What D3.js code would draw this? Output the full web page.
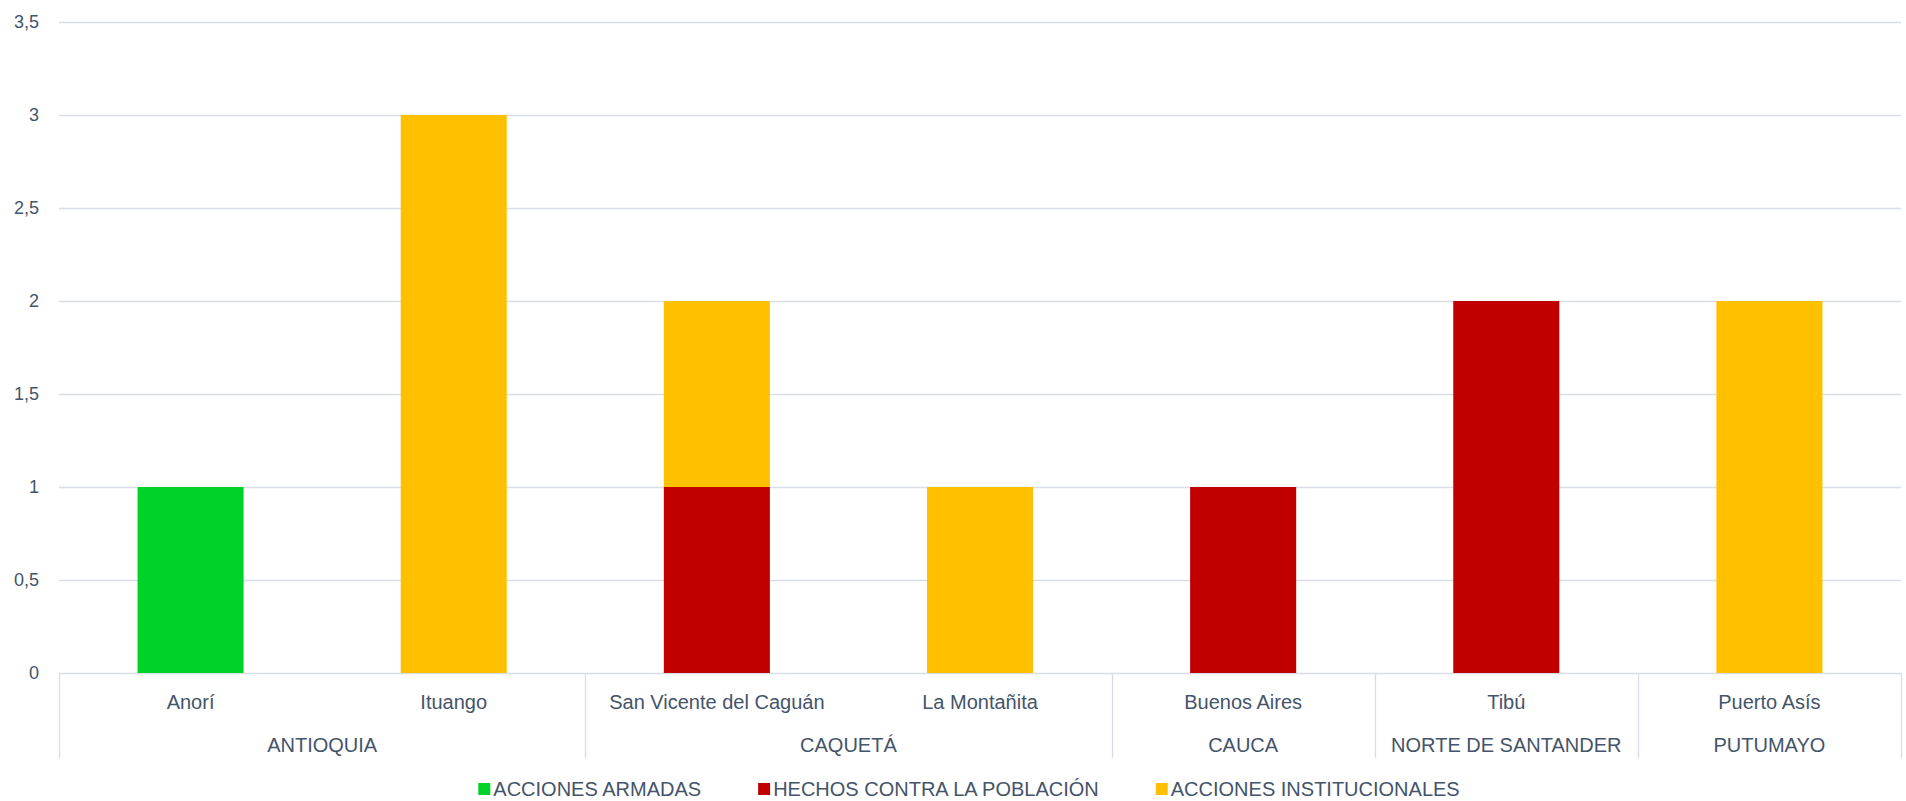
<!DOCTYPE html>
<html>
<head>
<meta charset="utf-8">
<script src="https://cdn.jsdelivr.net/npm/d3@7"></script>
<style>
  body { margin: 0; background: #fff; }
  svg text { font-family: "Liberation Sans", Arial, sans-serif; fill: #44546A; }
</style>
</head>
<body>
<script>
// Data
var departments = ["ANTIOQUIA", "ANTIOQUIA", "CAQUETÁ", "CAQUETÁ", "CAUCA", "NORTE DE SANTANDER", "PUTUMAYO"];
var municipalities = ["Anorí", "Ituango", "San Vicente del Caguán", "La Montañita", "Buenos Aires", "Tibú", "Puerto Asís"];
var seriesNames = ["ACCIONES ARMADAS", "HECHOS CONTRA LA POBLACIÓN", "ACCIONES INSTITUCIONALES"];
var accionesArmadas = [1, 0, 0, 0, 0, 0, 0];
var hechosPoblacion = [0, 0, 1, 0, 1, 2, 0];
var accionesInstitucionales = [0, 3, 1, 1, 0, 0, 2];
var yTicks = [0, 0.5, 1, 1.5, 2, 2.5, 3, 3.5];
var colors = ["#00D22A", "#C00000", "#FFC000"];

var w = 1906;
var h = 801;
var plotLeft = 59, plotRight = 1901, plotTop = 22, plotBottom = 673;

var rows = municipalities.map(function(m, i) {
  return { name: m, dept: departments[i], s0: accionesArmadas[i], s1: hechosPoblacion[i], s2: accionesInstitucionales[i] };
});
var stacked = d3.stack().keys(["s0", "s1", "s2"])(rows);

var xScale = d3.scaleBand()
  .domain(municipalities)
  .range([plotLeft, plotRight])
  .paddingInner(0.597)
  .paddingOuter(0.2985);

var yScale = d3.scaleLinear()
  .domain([0, 3.5])
  .range([plotBottom, plotTop]);

var svg = d3.select("body")
  .append("svg")
  .attr("width", w)
  .attr("height", h);

// gridlines
svg.append("g")
  .selectAll("line")
  .data(yTicks)
  .enter()
  .append("line")
  .attr("x1", plotLeft)
  .attr("x2", plotRight)
  .attr("y1", function(d) { return Math.round(yScale(d)) + 0.5; })
  .attr("y2", function(d) { return Math.round(yScale(d)) + 0.5; })
  .attr("stroke", "#D9DEE6")
  .attr("stroke-width", 1.3);

// y axis labels
var yAxis = d3.axisLeft(yScale)
  .tickValues(yTicks)
  .tickSize(0)
  .tickPadding(20)
  .tickFormat(function(d) { return String(d).replace(".", ","); });

var yg = svg.append("g")
  .attr("transform", "translate(" + plotLeft + ",0)")
  .call(yAxis);
yg.select(".domain").remove();
yg.selectAll("text")
  .style("font-size", "18px")
  .style("font-family", "'Liberation Sans', Arial, sans-serif")
  .attr("fill", "#44546A");

// bars
svg.append("g")
  .selectAll("g")
  .data(stacked)
  .enter()
  .append("g")
  .attr("fill", function(d, i) { return colors[i]; })
  .selectAll("rect")
  .data(function(d) { return d; })
  .enter()
  .append("rect")
  .attr("x", function(d) { return xScale(d.data.name); })
  .attr("width", xScale.bandwidth())
  .attr("y", function(d) { return yScale(d[1]); })
  .attr("height", function(d) { return yScale(d[0]) - yScale(d[1]); });

// category axis (two levels)
var step = (plotRight - plotLeft) / municipalities.length;
var groups = [];
departments.forEach(function(d, i) {
  var last = groups[groups.length - 1];
  if (last && last.name === d) { last.end = i; }
  else { groups.push({ name: d, start: i, end: i }); }
});

var sepX = [plotLeft].concat(groups.map(function(g) { return plotLeft + (g.end + 1) * step; }));
svg.append("g")
  .selectAll("line")
  .data(sepX)
  .enter()
  .append("line")
  .attr("x1", function(d) { return Math.round(d) + 0.5; })
  .attr("x2", function(d) { return Math.round(d) + 0.5; })
  .attr("y1", plotBottom)
  .attr("y2", 758)
  .attr("stroke", "#D9DEE6")
  .attr("stroke-width", 1.3);

svg.append("g")
  .selectAll("text")
  .data(municipalities)
  .enter()
  .append("text")
  .attr("x", function(d) { return xScale(d) + xScale.bandwidth() / 2; })
  .attr("y", 709)
  .attr("text-anchor", "middle")
  .style("font-size", "20px")
  .text(function(d) { return d; });

svg.append("g")
  .selectAll("text")
  .data(groups)
  .enter()
  .append("text")
  .attr("x", function(g) { return plotLeft + (g.start + g.end + 1) / 2 * step; })
  .attr("y", 752)
  .attr("text-anchor", "middle")
  .style("font-size", "20px")
  .text(function(g) { return g.name; });

// legend
var legend = svg.append("g");
var items = legend.selectAll("g")
  .data(seriesNames)
  .enter()
  .append("g");
items.append("rect")
  .attr("width", 12)
  .attr("height", 12)
  .attr("y", 783)
  .attr("fill", function(d, i) { return colors[i]; });
items.append("text")
  .attr("x", 15)
  .attr("y", 796)
  .style("font-size", "20px")
  .text(function(d) { return d; });

var widths = [];
items.each(function() { widths.push(d3.select(this).select("text").node().getComputedTextLength() + 15); });
var gap = 57;
var total = d3.sum(widths) + gap * (widths.length - 1);
var xPos = 969 - total / 2;
items.attr("transform", function(d, i) {
  var x = xPos;
  xPos += widths[i] + gap;
  return "translate(" + x + ",0)";
});
</script>
</body>
</html>
